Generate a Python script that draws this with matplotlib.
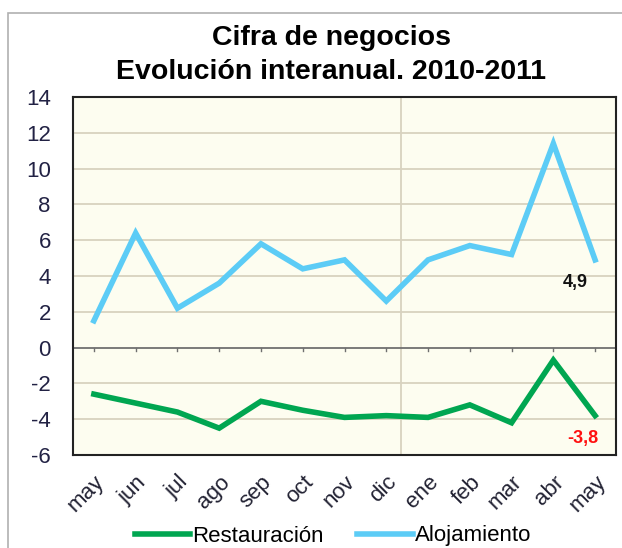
import matplotlib.pyplot as plt
from matplotlib.patches import Rectangle

# months May 2010 - May 2011
meses = ["may", "jun", "jul", "ago", "sep", "oct", "nov", "dic",
         "ene", "feb", "mar", "abr", "may"]
restauracion = [-2.6, -3.1, -3.6, -4.5, -3.0, -3.5, -3.9, -3.8,
                -3.9, -3.2, -4.2, -0.7, -3.8]
alojamiento = [1.5, 6.4, 2.2, 3.6, 5.8, 4.4, 4.9, 2.6,
               4.9, 5.7, 5.2, 11.4, 4.9]
y_ticks = [14, 12, 10, 8, 6, 4, 2, 0, -2, -4, -6]

plt.rcParams['font.family'] = ['Liberation Sans', 'DejaVu Sans']
plt.rcParams['axes.unicode_minus'] = False
fig = plt.figure(figsize=(6.22, 5.48), dpi=100)

# outer chart frame
fig.patches.append(Rectangle((8 / 622, -0.01), 1.0, 1 - 13 / 548 + 0.01,
                             transform=fig.transFigure, fill=False,
                             edgecolor='#b0b0b0', linewidth=1.2))

ax = fig.add_axes([73 / 622, 1 - 455 / 548, (616 - 73) / 622, (455 - 97) / 548])
ax.set_facecolor('#fdfdf0')
x = list(range(len(meses)))

for t in y_ticks:
    if t not in (0, 14, -6):
        ax.axhline(t, color='#d8d2bf', linewidth=1.3, zorder=1)
ax.axvline(7.35, color='#d8d2bf', linewidth=1.3, zorder=1)
ax.axhline(0, color='#707070', linewidth=1.3, zorder=2)
for xi in x:
    ax.plot([xi, xi], [0, -0.2], color='#707070', linewidth=1, zorder=2)

ax.plot(x, restauracion, color='#00a651', linewidth=4, label='Restauración',
        solid_joinstyle='miter', zorder=3)
ax.plot(x, alojamiento, color='#5cccf6', linewidth=4, label='Alojamiento',
        solid_joinstyle='miter', zorder=3)

ax.annotate('4,9', (12, alojamiento[-1]), xytext=(-14, -10), textcoords='offset points',
            ha='center', va='top', fontsize=13, fontweight='bold', color='#111111')
ax.annotate('-3,8', (12, restauracion[-1]), xytext=(-9, -10), textcoords='offset points',
            ha='center', va='top', fontsize=13, fontweight='bold', color='#ff1010')

ax.set_xlim(-0.5, 12.5)
ax.set_ylim(-6, 14)
ax.set_yticks(y_ticks)
ax.set_xticks(x)
ax.set_xticklabels(meses, rotation=45, ha='right', rotation_mode='anchor',
                   fontsize=16, color='#222233')
ax.tick_params(axis='x', length=0, pad=12)
ax.tick_params(axis='y', length=0, pad=16, labelsize=16, labelcolor='#222244')
for s in ax.spines.values():
    s.set_linewidth(1.5)
    s.set_color('#222222')

fig.text(331 / 622, 1 - 38 / 548, 'Cifra de negocios', ha='center', va='center',
         fontsize=20.5, fontweight='bold')
fig.text(331 / 622, 1 - 72 / 548, 'Evolución interanual. 2010-2011', ha='center',
         va='center', fontsize=20.5, fontweight='bold')

fig.legend(loc='center', bbox_to_anchor=(333 / 622, 1 - 536 / 548), ncol=2, frameon=False,
           fontsize=16, handlelength=2.5, handletextpad=0.1, columnspacing=1.5)

fig.savefig('out.png', dpi=100)
